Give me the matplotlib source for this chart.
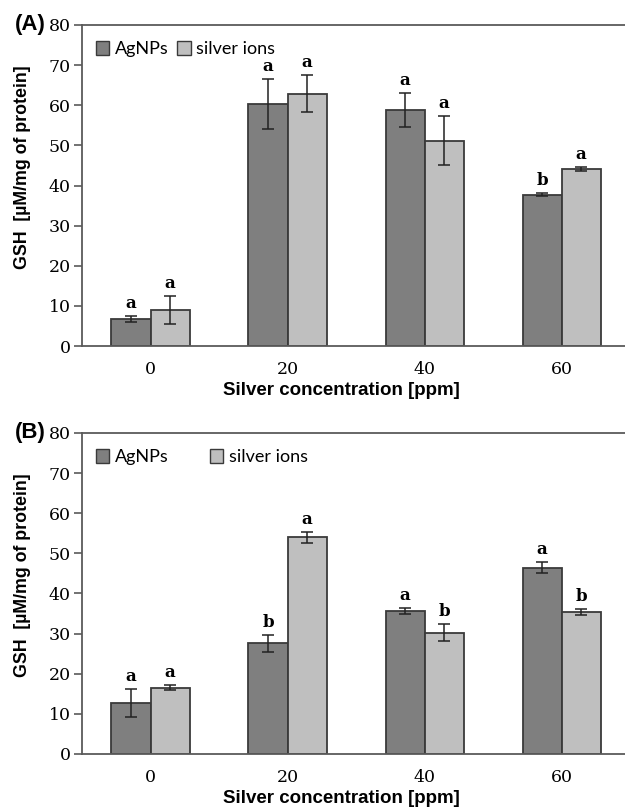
import numpy as np
import matplotlib
matplotlib.use("Agg")
import matplotlib.pyplot as plt

# ---------------------------------------------------------------------------
# Data
# ---------------------------------------------------------------------------
concentrations = ["0", "20", "40", "60"]
series_names = ["AgNPs", "silver ions"]

a_agnps = [6.8, 60.3, 58.8, 37.7]
a_agnps_err = [0.8, 6.3, 4.3, 0.4]
a_ions = [9.0, 62.9, 51.2, 44.1]
a_ions_err = [3.5, 4.7, 6.2, 0.6]
a_agnps_letters = ["a", "a", "a", "b"]
a_ions_letters = ["a", "a", "a", "a"]

b_agnps = [12.8, 27.6, 35.7, 46.4]
b_agnps_err = [3.5, 2.1, 0.8, 1.4]
b_ions = [16.5, 54.0, 30.2, 35.4]
b_ions_err = [0.6, 1.4, 2.1, 0.8]
b_agnps_letters = ["a", "b", "a", "a"]
b_ions_letters = ["a", "a", "b", "b"]

yticks = [0, 10, 20, 30, 40, 50, 60, 70, 80]

# ---------------------------------------------------------------------------
# Style
# ---------------------------------------------------------------------------
C_AG = "#7f7f7f"
C_ION = "#bfbfbf"
EDGE = "#3a3a3a"
SPINE = "#5a5a5a"
SERIF = "DejaVu Serif"
LEGEND_FONT = "Lato"
BAR_W = 0.285

fig = plt.figure(figsize=(6.25, 8.09), dpi=100)
ax_a = fig.add_axes([0.1312, 0.5723, 0.877, 0.3968])
ax_b = fig.add_axes([0.1312, 0.0680, 0.877, 0.3968])


def draw_panel(ax, tag, ag, ag_err, ion, ion_err, ag_let, ion_let, colspace):
    x = np.arange(len(concentrations))
    ax.bar(x - BAR_W / 2, ag, BAR_W, color=C_AG, edgecolor=EDGE,
           linewidth=1.3, label=series_names[0], zorder=2)
    ax.bar(x + BAR_W / 2, ion, BAR_W, color=C_ION, edgecolor=EDGE,
           linewidth=1.3, label=series_names[1], zorder=2)
    ax.errorbar(x - BAR_W / 2, ag, yerr=ag_err, fmt="none", ecolor="#222222",
                elinewidth=1.1, capsize=4, capthick=1.1, zorder=3)
    ax.errorbar(x + BAR_W / 2, ion, yerr=ion_err, fmt="none", ecolor="#222222",
                elinewidth=1.1, capsize=4, capthick=1.1, zorder=3)

    for xi, v, e, t in zip(x - BAR_W / 2, ag, ag_err, ag_let):
        ax.text(xi, v + e + 1.0, t, ha="center", va="bottom",
                fontsize=12, fontweight="bold", family=SERIF)
    for xi, v, e, t in zip(x + BAR_W / 2, ion, ion_err, ion_let):
        ax.text(xi, v + e + 1.0, t, ha="center", va="bottom",
                fontsize=12, fontweight="bold", family=SERIF)

    ax.set_xlim(-0.5, 3.5)
    ax.set_ylim(0, 80)
    ax.set_yticks(yticks)
    ax.set_xticks(x)
    ax.set_xticklabels(concentrations, family=SERIF, fontsize=12.5)
    ax.set_yticklabels([str(v) for v in yticks], family=SERIF, fontsize=12.5)
    ax.tick_params(axis="x", length=0, pad=11)
    ax.tick_params(axis="y", direction="out", length=6, width=1.2,
                   color=SPINE, pad=2)

    for s in ("left", "top", "bottom"):
        ax.spines[s].set_color(SPINE)
        ax.spines[s].set_linewidth(1.3)
    ax.spines["right"].set_visible(False)

    ax.set_xlabel("Silver concentration [ppm]", fontsize=13.5,
                  fontweight="bold", family="Liberation Sans")
    ax.xaxis.set_label_coords(0.4735, -0.112)
    ax.set_ylabel("GSH  [\u00b5M/mg of protein]", fontsize=12.8,
                  fontweight="bold", family="Liberation Sans")
    ax.yaxis.set_label_coords(-0.093, 0.558)

    leg = ax.legend(loc="upper left", ncol=2, frameon=False,
                    bbox_to_anchor=(-0.005, 1.0), handlelength=0.75,
                    handleheight=0.75, handletextpad=0.3,
                    columnspacing=colspace, borderaxespad=0.5,
                    prop={"family": LEGEND_FONT, "size": 13})
    for h in leg.legend_handles:
        h.set_edgecolor(EDGE)
        h.set_linewidth(1.0)

    ax.text(-0.066, 1.0, tag, transform=ax.transAxes, fontsize=16,
            fontweight="bold", family="Liberation Sans", ha="right", va="center")


draw_panel(ax_a, "(A)", a_agnps, a_agnps_err, a_ions, a_ions_err,
           a_agnps_letters, a_ions_letters, 0.5)
draw_panel(ax_b, "(B)", b_agnps, b_agnps_err, b_ions, b_ions_err,
           b_agnps_letters, b_ions_letters, 2.3)

fig.savefig("out.png", dpi=100)
